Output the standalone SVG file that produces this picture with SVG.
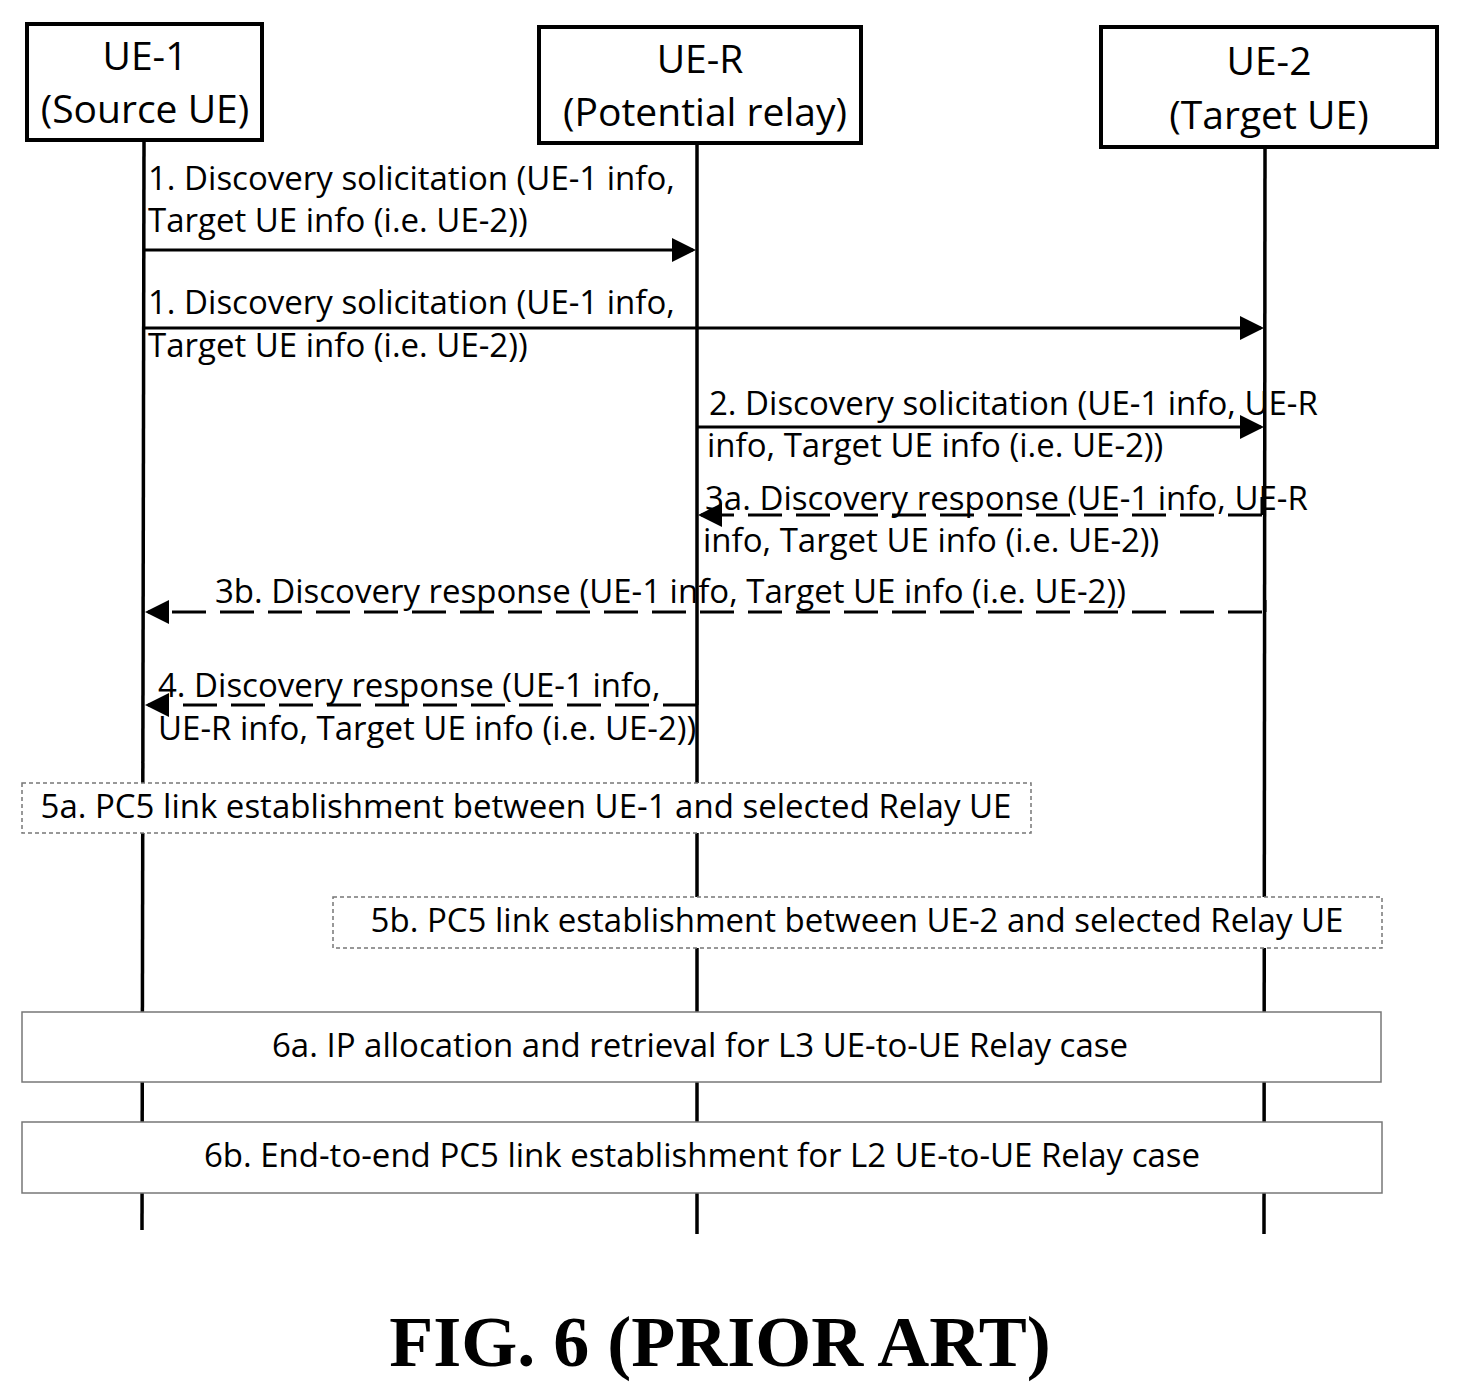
<svg xmlns="http://www.w3.org/2000/svg" width="1461" height="1398" viewBox="0 0 1461 1398">
<style>
.box{fill:#fff;stroke:#000;stroke-width:4}
.t{font-family:"Open Sans","Liberation Sans",sans-serif;font-size:33px;fill:#000}
.h{font-size:39px}
.life{stroke:#000;stroke-width:3.5}
.msg{stroke:#000;stroke-width:3;fill:none}
.dash{stroke-dasharray:34,14}
.frame{fill:#fff;stroke:#777;stroke-width:1.5}
.fd{stroke-dasharray:4,3}
</style>
<defs><marker id="a" markerWidth="8" markerHeight="8" refX="7" refY="4" orient="auto" markerUnits="strokeWidth"><path d="M0,0 L8,4 L0,8 z" fill="#000"/></marker></defs>
<rect width="1461" height="1398" fill="#fff"/>
<g id="lifelines">
<line class="life" x1="144" y1="140" x2="142" y2="1230"/>
<line class="life" x1="697" y1="143" x2="697" y2="1234"/>
<line class="life" x1="1265" y1="147" x2="1264" y2="1234"/>
</g>
<g id="UE-1"><rect class="box" x="27" y="24" width="235" height="116"/><text class="t h" x="145" y="70" text-anchor="middle">UE-1</text><text class="t h" x="145" y="123" text-anchor="middle">(Source UE)</text></g>
<g id="UE-R"><rect class="box" x="539" y="27" width="322" height="116"/><text class="t h" x="700" y="73" text-anchor="middle">UE-R</text><text class="t h" x="705" y="126" text-anchor="middle">(Potential relay)</text></g>
<g id="UE-2"><rect class="box" x="1101" y="27" width="336" height="120"/><text class="t h" x="1269" y="75" text-anchor="middle">UE-2</text><text class="t h" x="1269" y="129" text-anchor="middle">(Target UE)</text></g>
<g id="connectors">
<line class="msg" x1="144" y1="250" x2="693" y2="250" marker-end="url(#a)"/>
<line class="msg" x1="144" y1="328" x2="1261" y2="328" marker-end="url(#a)"/>
<line class="msg" x1="697" y1="427" x2="1261" y2="427" marker-end="url(#a)"/>
<path class="msg dash" d="M1262,515 H701" marker-end="url(#a)"/>
<path class="msg dash" d="M1262,612 H148" marker-end="url(#a)"/>
<path class="msg dash" d="M697,705 H148" marker-end="url(#a)"/>
<path class="msg" d="M1262,497 V515 M1265,600 V612 M697,680 V705"/>
</g>
<g id="labels">
<text class="t" x="148" y="190">1. Discovery solicitation (UE-1 info,</text>
<text class="t" x="148" y="232">Target UE info (i.e. UE-2))</text>
<text class="t" x="148" y="314">1. Discovery solicitation (UE-1 info,</text>
<text class="t" x="148" y="357">Target UE info (i.e. UE-2))</text>
<text class="t" x="709" y="415">2. Discovery solicitation (UE-1 info, UE-R</text>
<text class="t" x="707" y="457">info, Target UE info (i.e. UE-2))</text>
<text class="t" x="705" y="510">3a. Discovery response (UE-1 info, UE-R</text>
<text class="t" x="703" y="552">info, Target UE info (i.e. UE-2))</text>
<text class="t" x="215" y="603">3b. Discovery response (UE-1 info, Target UE info (i.e. UE-2))</text>
<text class="t" x="158" y="697">4. Discovery response (UE-1 info,</text>
<text class="t" x="158" y="740">UE-R info, Target UE info (i.e. UE-2))</text>
</g>
<g id="step5a"><rect class="frame fd" x="22" y="783" width="1009" height="50"/><text class="t" x="526" y="818" text-anchor="middle">5a. PC5 link establishment between UE-1 and selected Relay UE</text></g>
<g id="step5b"><rect class="frame fd" x="333" y="897" width="1049" height="51"/><text class="t" x="857" y="932" text-anchor="middle">5b. PC5 link establishment between UE-2 and selected Relay UE</text></g>
<g id="step6a"><rect class="frame" x="22" y="1012" width="1359" height="70"/><text class="t" x="700" y="1057" text-anchor="middle">6a. IP allocation and retrieval for L3 UE-to-UE Relay case</text></g>
<g id="step6b"><rect class="frame" x="22" y="1122" width="1360" height="71"/><text class="t" x="702" y="1167" text-anchor="middle">6b. End-to-end PC5 link establishment for L2 UE-to-UE Relay case</text></g>
<text x="720" y="1366" text-anchor="middle" font-family="Liberation Serif,serif" font-weight="bold" font-size="72">FIG. 6 (PRIOR ART)</text>
</svg>
